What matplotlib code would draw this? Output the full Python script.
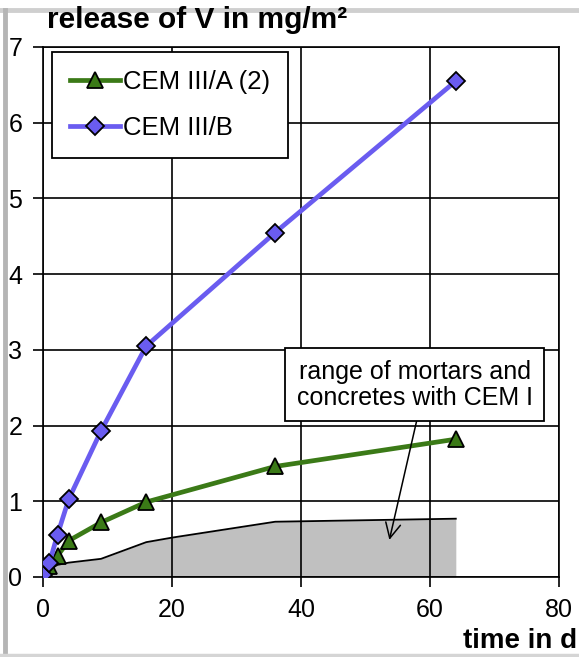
import numpy as np
import matplotlib
matplotlib.use("Agg")
import matplotlib.pyplot as plt
from matplotlib.lines import Line2D

plt.rcParams['font.family'] = ['Liberation Sans', 'DejaVu Sans']

# leaching time in days (sqrt-time sampling)
days = [0, 1, 2.25, 4, 9, 16, 36, 64]
cem3a = [0.02, 0.14, 0.28, 0.48, 0.72, 0.99, 1.46, 1.82]
cem3b = [0.03, 0.19, 0.56, 1.03, 1.93, 3.05, 4.55, 6.55]

# upper edge of the CEM I band
band_days = [0, 1, 2.25, 4, 9, 16, 20, 36, 64]
band_top = [0.0, 0.10, 0.16, 0.19, 0.24, 0.46, 0.52, 0.73, 0.77]

fig = plt.figure(figsize=(5.79, 6.57), dpi=100)
ax = fig.add_axes([43 / 579, 1 - 577 / 657, 516 / 579, 530 / 657])

ax.fill_between(band_days, 0, band_top, color='#c0c0c0', lw=0, zorder=0.2)
ax.plot(band_days, band_top, color='black', lw=1.3, zorder=0.3)

ax.plot(days, cem3a, color='#3b7a17', lw=3.4, marker='^', ms=12,
        mfc='#3b7a17', mec='black', mew=1.3, label='CEM III/A (2)', zorder=3)
ax.plot(days, cem3b, color='#6a5cf0', lw=3.4, marker='D', ms=9.5,
        mfc='#6a5cf0', mec='black', mew=1.3, label='CEM III/B', zorder=4)

ax.set_xlim(0, 80)
ax.set_ylim(0, 7)
ax.set_xticks([0, 20, 40, 60, 80])
ax.set_yticks(range(0, 8))
ax.set_axisbelow(True)
ax.grid(True, color='black', lw=1.2)
for s in ax.spines.values():
    s.set_linewidth(1.2)
ax.tick_params(direction='out', length=7, width=1.2, labelsize=18, pad=8)

ax.annotate('range of mortars and\nconcretes with CEM I',
            xy=(53.7, 0.49), xytext=(57.6, 2.54),
            ha='center', va='center', fontsize=18, linespacing=1.1,
            bbox=dict(boxstyle='square,pad=0.45', fc='white', ec='black', lw=1.3),
            arrowprops=dict(arrowstyle='->,head_length=0.6,head_width=0.3',
                            color='black', lw=1.1,
                            relpos=(0.52, 0.0), shrinkA=0, shrinkB=0),
            zorder=5)

leg = ax.legend(loc='upper left', bbox_to_anchor=(52 / 579, 1 - 52 / 657),
                bbox_transform=fig.transFigure, borderaxespad=0, fontsize=18.5,
                handlelength=1.95, handletextpad=0.1, borderpad=0.7,
                labelspacing=0.85, fancybox=False, framealpha=1,
                edgecolor='black')
leg.get_frame().set_linewidth(1.3)

fig.text(47 / 579, 1 - 20 / 657, 'release of V in mg/m²', fontsize=21.5,
         fontweight='bold', va='center', ha='left')
fig.text(577 / 579, 1 - 641 / 657, 'time in d', fontsize=20,
         fontweight='bold', va='center', ha='right')

# gray page frame
fig.add_artist(Line2D([0, 1], [1 - 9.5 / 657] * 2, transform=fig.transFigure,
                      color='#cfcfcf', lw=3.5))
fig.add_artist(Line2D([4.5 / 579] * 2, [0, 1 - 9.5 / 657], transform=fig.transFigure,
                      color='#b5b5b5', lw=3.5))
fig.add_artist(Line2D([0, 1], [2 / 657] * 2, transform=fig.transFigure,
                      color='#d5d5d5', lw=2.5))

fig.savefig('out.png', dpi=100)
